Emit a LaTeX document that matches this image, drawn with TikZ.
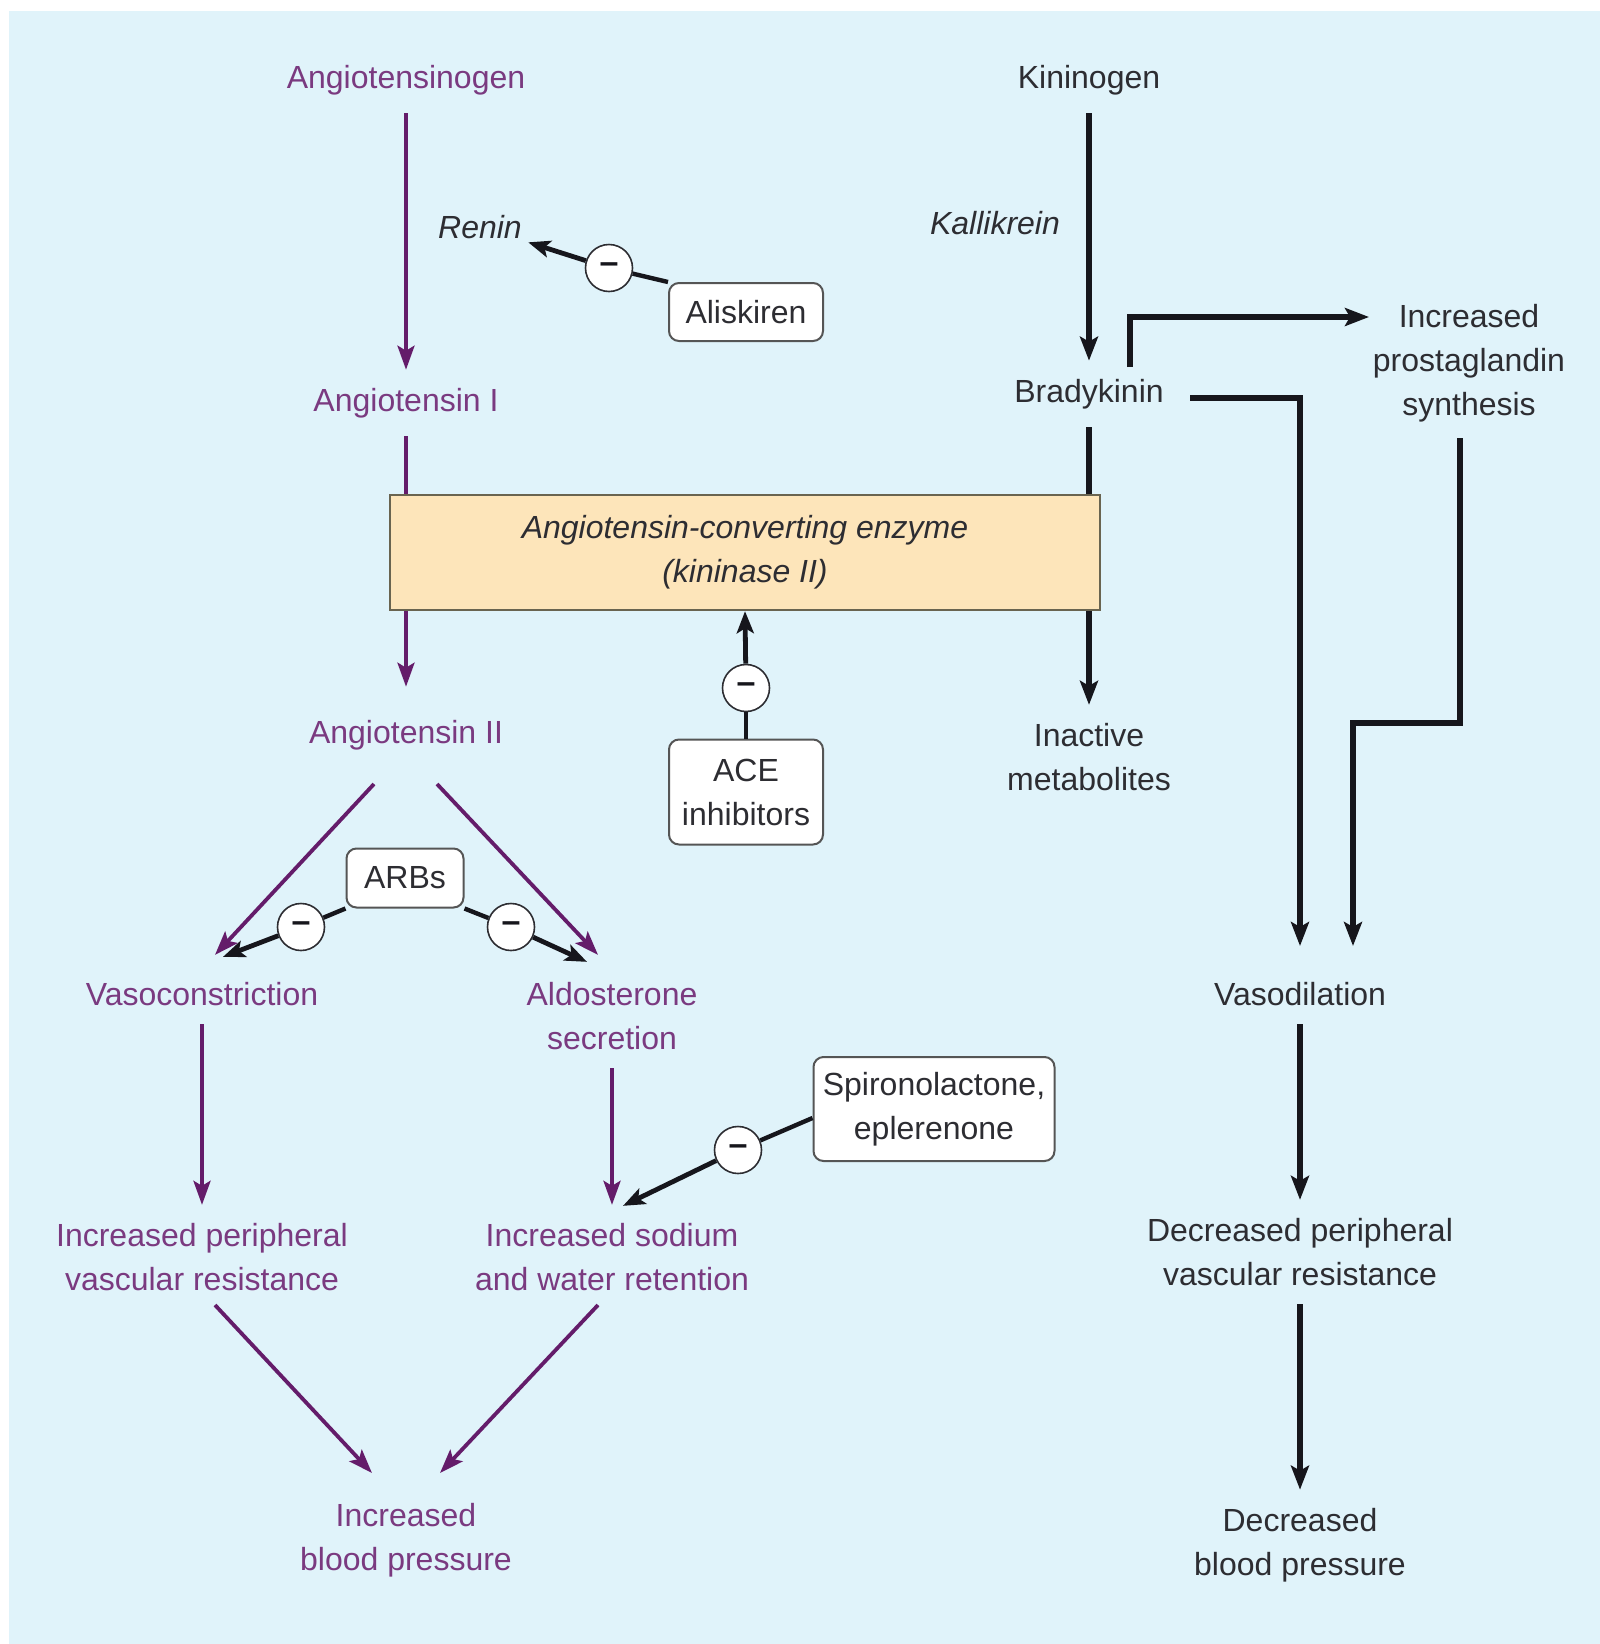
\documentclass[tikz,border=0pt]{standalone}
\usepackage{fontspec}
\setmainfont{Liberation Sans}
\usetikzlibrary{arrows.meta,calc}
\definecolor{bgblue}{RGB}{224,243,250}
\definecolor{ptext}{RGB}{122,58,128}
\definecolor{parrow}{RGB}{100,28,106}
\definecolor{dtext}{RGB}{45,45,50}
\definecolor{dline}{RGB}{22,22,28}
\definecolor{acefill}{RGB}{253,229,186}
\definecolor{aceline}{RGB}{105,100,80}
\definecolor{boxline}{RGB}{85,85,85}
\begin{document}
\begin{tikzpicture}[x=0.5pt,y=-0.5pt,
  every node/.style={font=\fontsize{16}{22}\selectfont},
  ptxt/.style={text=ptext, align=center, inner xsep=3pt, inner ysep=9pt},
  dtxt/.style={text=dtext, align=center, inner xsep=3pt, inner ysep=9pt},
  ital/.style={font=\fontsize{16}{22}\selectfont\itshape},
  drug/.style={draw=boxline, fill=white, rounded corners=5pt, line width=1pt, text=dtext, align=center, inner sep=0pt},
  minus/.style={circle, draw=dtext, fill=white, line width=0.8pt, minimum size=23.5pt, inner sep=0pt, text=dline, font=\fontsize{17}{17}\selectfont\bfseries},
  parr/.style={draw=parrow, line width=1.9pt, -{Stealth[length=12pt,width=8.5pt,inset=2.5pt]}},
  barr/.style={draw=dline, line width=2.7pt, -{Stealth[length=12pt,width=9pt,inset=2.5pt]}},
  iline/.style={draw=dline, line width=2.2pt},
  iarr/.style={draw=dline, line width=2.4pt, -{Stealth[length=11pt,width=8.5pt,inset=2.5pt]}}
]
\fill[white] (0,0) rectangle (1600,1644);
\fill[bgblue] (9,11) rectangle (1600,1644);
\useasboundingbox (0,0) rectangle (1600,1644);

% text nodes
\node[ptxt] (agen) at (406,80) {Angiotensinogen};
\node[ptxt] (ang1) at (406,403) {Angiotensin I};
\node[dtxt,ital] (renin) at (480,227) {Renin};
\node[drug, minimum width=77pt, minimum height=29pt] (alisk) at (746,312) {Aliskiren};
\node[ptxt] (ang2) at (406,735) {Angiotensin II};
\node[drug, minimum width=77pt, minimum height=52.5pt] (aceinh) at (746,792) {ACE\\inhibitors};
\node[drug, minimum width=58.5pt, minimum height=29.5pt] (arbs) at (405,878) {ARBs};
\node[ptxt] (vaso) at (202,994) {Vasoconstriction};
\node[ptxt] (aldo) at (612,1016) {Aldosterone\\secretion};
\node[ptxt] (ipvr) at (202,1257) {Increased peripheral\\vascular resistance};
\node[ptxt] (isw) at (612,1257) {Increased sodium\\and water retention};
\node[drug, minimum width=120.5pt, minimum height=52pt] (spiro) at (934,1109) {Spironolactone,\\eplerenone};
\node[ptxt] (ibp) at (406,1540) {Increased\\blood pressure};
\node[dtxt] (kgen) at (1089,80) {Kininogen};
\node[dtxt,ital] (kall) at (995,223) {Kallikrein};
\node[dtxt] (brady) at (1089,394) {Bradykinin};
\node[dtxt] (inact) at (1089,757) {Inactive\\metabolites};
\node[dtxt] (prost) at (1469,363) {Increased\\prostaglandin\\synthesis};
\node[dtxt] (vasod) at (1300,994) {Vasodilation};
\node[dtxt] (dpvr) at (1300,1252) {Decreased peripheral\\vascular resistance};
\node[dtxt] (dbp) at (1300,1545) {Decreased\\blood pressure};

% lines passing through the ACE box
\draw[parr] (agen) -- (ang1);
\draw[parr] (ang1) -- ($(ang2.north)+(0,-15)$);
\draw[barr] (kgen) -- (brady);
\draw[barr] (brady) -- (inact);

% ACE box
\node[draw=aceline, fill=acefill, line width=1.2pt, minimum width=355pt, minimum height=57.5pt, inner sep=0pt, align=center, text=dtext, ital] (ace) at (745,552.5) {Angiotensin-converting enzyme\\(kininase II)};

% minus circles
\node[minus] (m1) at (609,268) {–};
\node[minus] (m2) at (746,688) {–};
\node[minus] (m3) at (301,927) {–};
\node[minus] (m4) at (511,927) {–};
\node[minus] (m5) at (738,1150) {–};

% inhibitions
\draw[iline] (alisk.north west) -- (m1);
\draw[iarr] (m1) -- (renin);
\draw[iline] (aceinh) -- (m2);
\draw[iarr] (m2) -- (ace.south);
\draw[iline] (arbs.south west) -- (m3);
\draw[iarr] (m3) -- ($(vaso.north)+(21,-7)$);
\draw[iline] (arbs.south east) -- (m4);
\draw[iarr] (m4) -- ($(aldo.north)+(-25,-2)$);
\draw[iline] ($(spiro.west)+(0,9)$) -- (m5);
\draw[iarr] (m5) -- ($(isw.north)+(11,1)$);

% renin-angiotensin pathway
\draw[parr] ($(ang2)+(-32,49)$) -- ($(vaso.north)+(13,-9)$);
\draw[parr] ($(ang2)+(31,49)$) -- ($(aldo.north)+(-14,-9)$);
\draw[parr] (vaso) -- (ipvr);
\draw[parr] (aldo) -- (isw);
\draw[parr] ($(ipvr)+(13,48)$) -- ($(ibp)+(-34,-67)$);
\draw[parr] ($(isw)+(-14,48)$) -- ($(ibp)+(34,-67)$);

% kinin pathway
\draw[barr] ($(brady)+(41,-27)$) |- ($(prost)+(-100,-46)$);
\draw[barr] ($(brady)+(101,4)$) -| ($(vasod)+(0,-48)$);
\draw[barr] ($(prost)+(-9,75)$) |- ($(vasod)+(53,-271)$) -- ($(vasod)+(53,-48)$);
\draw[barr] (vasod) -- (dpvr);
\draw[barr] (dpvr) -- (dbp);
\end{tikzpicture}
\end{document}
